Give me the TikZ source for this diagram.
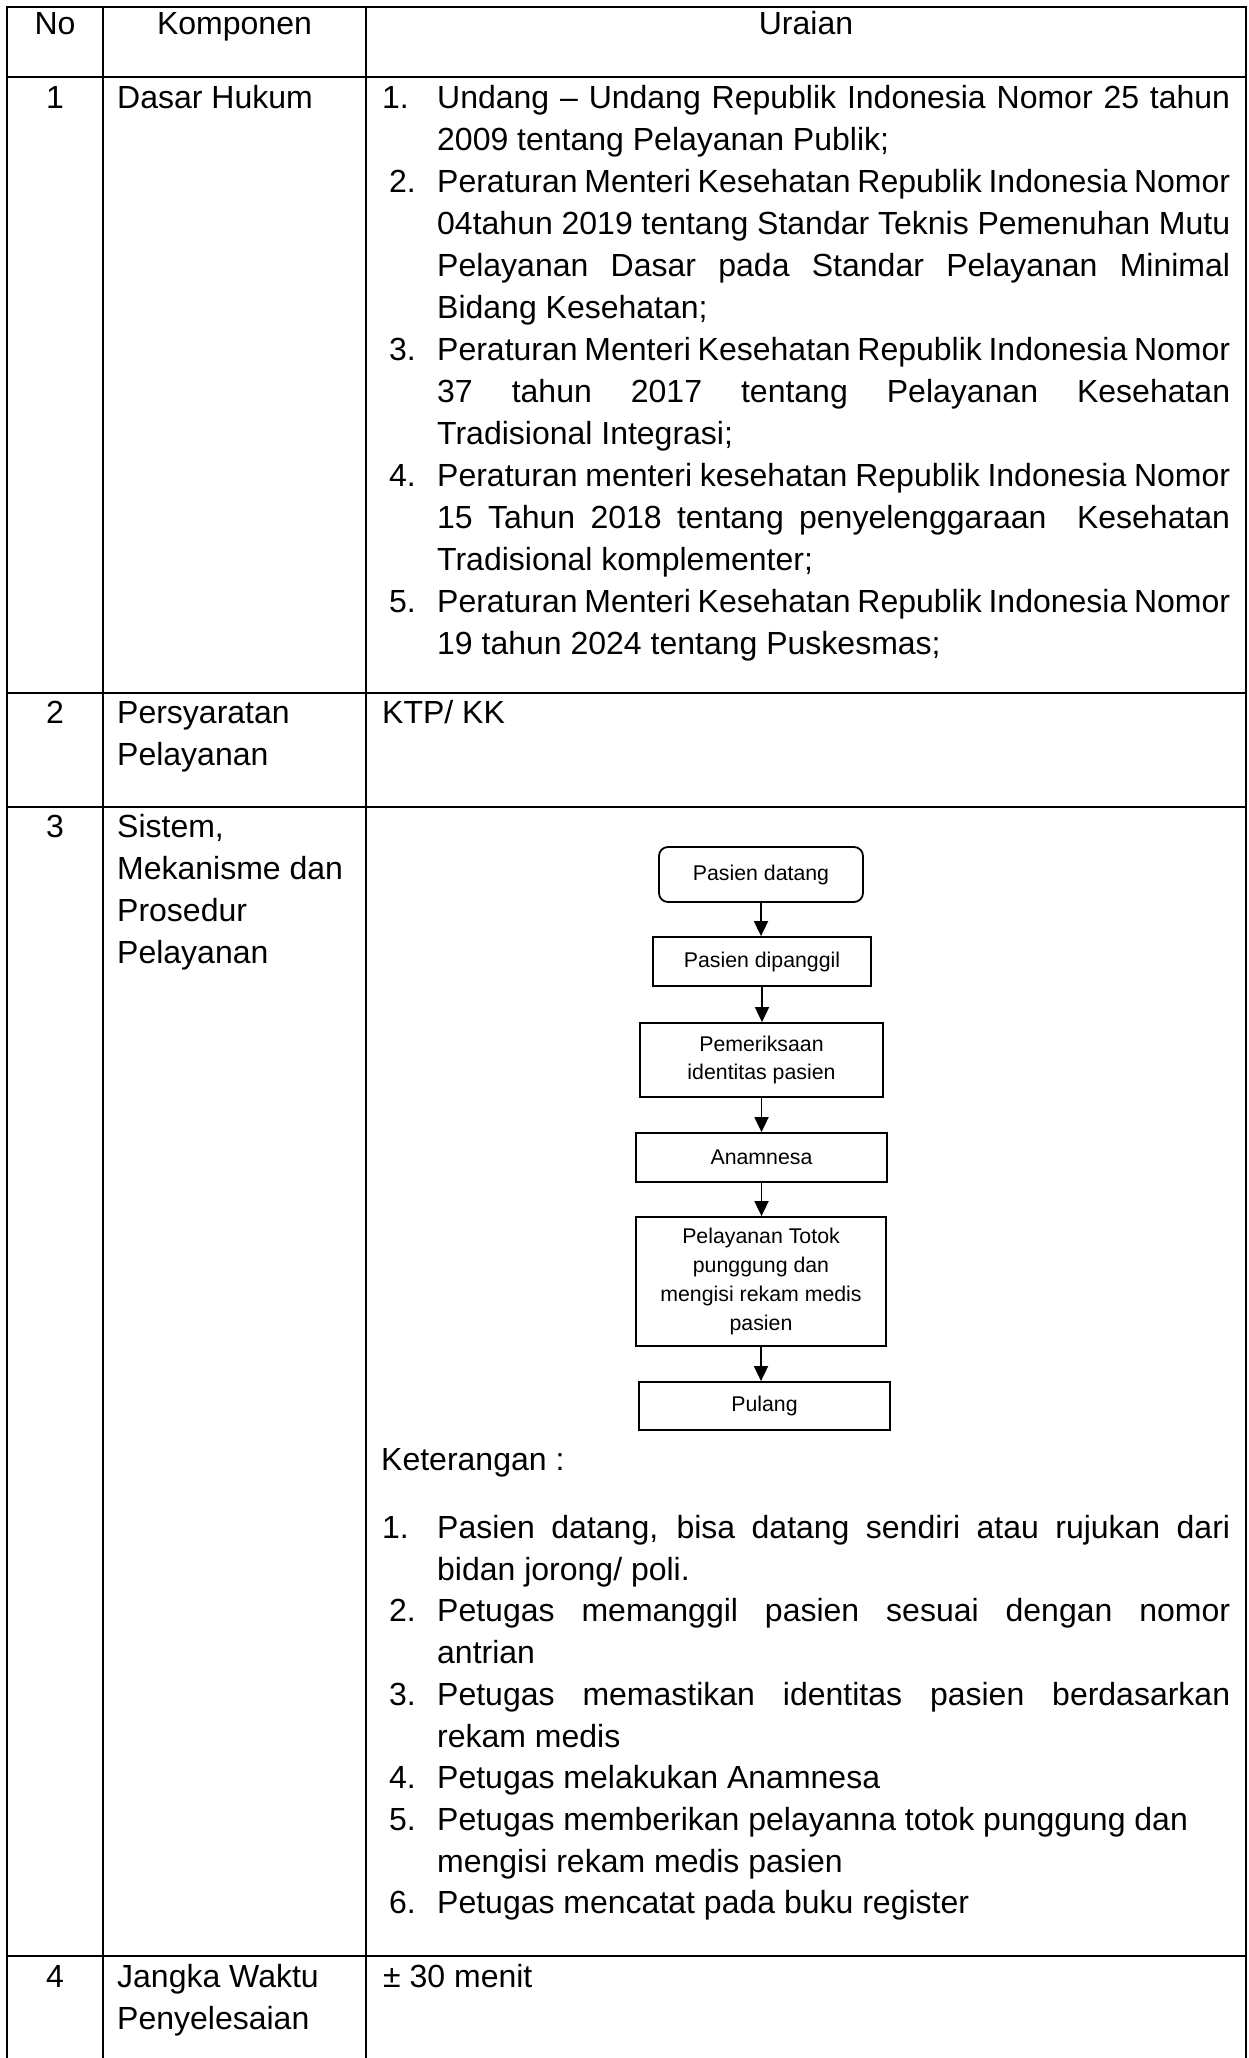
\documentclass[tikz,border=0pt]{standalone}
\usepackage{fontspec}
\setmainfont{Liberation Sans}
\usetikzlibrary{arrows.meta}

% body text and flowchart text sizes
\newcommand\tblfont{\fontsize{32}{42}\selectfont}
\newcommand\boxfont{\fontsize{21.3}{28.7}\selectfont}
% a fully justified line in the Uraian column
\newcommand\just[1]{\makebox[793pt][s]{#1}}

\tikzset{
  grid/.style={line width=2.6pt, line cap=rect},
  txt/.style={anchor=base west, inner sep=0pt, font=\tblfont},
  ctxt/.style={anchor=base, inner sep=0pt, font=\tblfont},
  flowbox/.style={draw, line width=1.8pt, inner sep=0pt, align=center, font=\boxfont},
  flowarrow/.style={line width=1.8pt, -{Triangle[length=15pt,width=14pt]}}
}

\begin{document}
\begin{tikzpicture}[x=1pt,y=-1pt]
\useasboundingbox (0,0) rectangle (1248,2058);
\fill[white] (0,0) rectangle (1248,2058);

% ---- table rules ----
\draw[grid] (7,2058) -- (7,7) -- (1246,7) -- (1246,2058);
\draw[grid] (103,7) -- (103,2058);
\draw[grid] (366,7) -- (366,2058);
\draw[grid] (7,77) -- (1246,77);
\draw[grid] (7,693) -- (1246,693);
\draw[grid] (7,807) -- (1246,807);
\draw[grid] (7,1956) -- (1246,1956);

% ---- header ----
\node[ctxt] (hno) at (55,35) {No};
\node[ctxt] (hkomp) at (234.5,35) {Komponen};
\node[ctxt] (hurai) at (806,35) {Uraian};

% ---- row 1: Dasar Hukum ----
\node[ctxt] (n1) at (55,108) {1};
\node[txt] (k1) at (117,108) {Dasar Hukum};
\node[txt] (a1n) at (382,108) {1.};
\node[txt] (a1a) at (437,108) {\just{Undang – Undang Republik Indonesia Nomor 25 tahun}};
\node[txt] (a1b) at (437,150) {2009 tentang Pelayanan Publik;};
\node[txt] (a2n) at (389,192) {2.};
\node[txt] (a2a) at (437,192) {\just{Peraturan Menteri Kesehatan Republik Indonesia Nomor}};
\node[txt] (a2b) at (437,234) {\just{04tahun 2019 tentang Standar Teknis Pemenuhan Mutu}};
\node[txt] (a2c) at (437,276) {\just{Pelayanan Dasar pada Standar Pelayanan Minimal}};
\node[txt] (a2d) at (437,318) {Bidang Kesehatan;};
\node[txt] (a3n) at (389,360) {3.};
\node[txt] (a3a) at (437,360) {\just{Peraturan Menteri Kesehatan Republik Indonesia Nomor}};
\node[txt] (a3b) at (437,402) {\just{37 tahun 2017 tentang Pelayanan Kesehatan}};
\node[txt] (a3c) at (437,444) {Tradisional Integrasi;};
\node[txt] (a4n) at (389,486) {4.};
\node[txt] (a4a) at (437,486) {\just{Peraturan menteri kesehatan Republik Indonesia Nomor}};
\node[txt] (a4b) at (437,528) {\just{15 Tahun 2018 tentang penyelenggaraan\ \ Kesehatan}};
\node[txt] (a4c) at (437,570) {Tradisional komplementer;};
\node[txt] (a5n) at (389,612) {5.};
\node[txt] (a5a) at (437,612) {\just{Peraturan Menteri Kesehatan Republik Indonesia Nomor}};
\node[txt] (a5b) at (437,654) {19 tahun 2024 tentang Puskesmas;};

% ---- row 2: Persyaratan Pelayanan ----
\node[ctxt] (n2) at (55,723) {2};
\node[txt] (k2a) at (117,723) {Persyaratan};
\node[txt] (k2b) at (117,765) {Pelayanan};
\node[txt] (u2) at (382,723) {KTP/ KK};

% ---- row 3: Sistem, Mekanisme dan Prosedur Pelayanan ----
\node[ctxt] (n3) at (55,837) {3};
\node[txt] (k3a) at (117,837) {Sistem,};
\node[txt] (k3b) at (117,879) {Mekanisme dan};
\node[txt] (k3c) at (117,921) {Prosedur};
\node[txt] (k3d) at (117,963) {Pelayanan};

% flowchart of the service
\node[flowbox, rounded corners=9pt, minimum width=204pt, minimum height=55pt] (f1) at (761,874.5) {Pasien datang};
\node[flowbox, minimum width=218pt, minimum height=49pt] (f2) at (762,961.5) {Pasien dipanggil};
\node[flowbox, minimum width=243pt, minimum height=74pt] (f3) at (761.5,1060) {Pemeriksaan\\identitas pasien};
\node[flowbox, minimum width=251pt, minimum height=49pt] (f4) at (761.5,1157.5) {Anamnesa};
\node[flowbox, minimum width=250pt, minimum height=129pt] (f5) at (761,1281.5) {Pelayanan Totok\\punggung dan\\mengisi rekam medis\\pasien};
\node[flowbox, minimum width=251pt, minimum height=48pt] (f6) at (764.5,1406) {Pulang};

\draw[flowarrow] (f1.south) -- (f1.south |- f2.north);
\draw[flowarrow] (f2.south) -- (f2.south |- f3.north);
\draw[flowarrow] (f3.south) -- (f3.south |- f4.north);
\draw[flowarrow] (f4.south) -- (f4.south |- f5.north);
\draw[flowarrow] (f5.south) -- (f5.south |- f6.north);

% explanation list
\node[txt] (ket) at (381,1470) {Keterangan :};
\node[txt] (b1n) at (382,1538) {1.};
\node[txt] (b1a) at (437,1538) {\just{Pasien datang, bisa datang sendiri atau rujukan dari}};
\node[txt] (b1b) at (437,1580) {bidan jorong/ poli.};
\node[txt] (b2n) at (389,1621) {2.};
\node[txt] (b2a) at (437,1621) {\just{Petugas memanggil pasien sesuai dengan nomor}};
\node[txt] (b2b) at (437,1663) {antrian};
\node[txt] (b3n) at (389,1705) {3.};
\node[txt] (b3a) at (437,1705) {\just{Petugas memastikan identitas pasien berdasarkan}};
\node[txt] (b3b) at (437,1747) {rekam medis};
\node[txt] (b4n) at (389,1788) {4.};
\node[txt] (b4a) at (437,1788) {Petugas melakukan Anamnesa};
\node[txt] (b5n) at (389,1830) {5.};
\node[txt] (b5a) at (437,1830) {Petugas memberikan pelayanna totok punggung dan};
\node[txt] (b5b) at (437,1872) {mengisi rekam medis pasien};
\node[txt] (b6n) at (389,1913) {6.};
\node[txt] (b6a) at (437,1913) {Petugas mencatat pada buku register};

% ---- row 4: Jangka Waktu Penyelesaian ----
\node[ctxt] (n4) at (55,1987) {4};
\node[txt] (k4a) at (117,1987) {Jangka Waktu};
\node[txt] (k4b) at (117,2029) {Penyelesaian};
\node[txt] (u4) at (383,1987) {± 30 menit};
\end{tikzpicture}
\end{document}
